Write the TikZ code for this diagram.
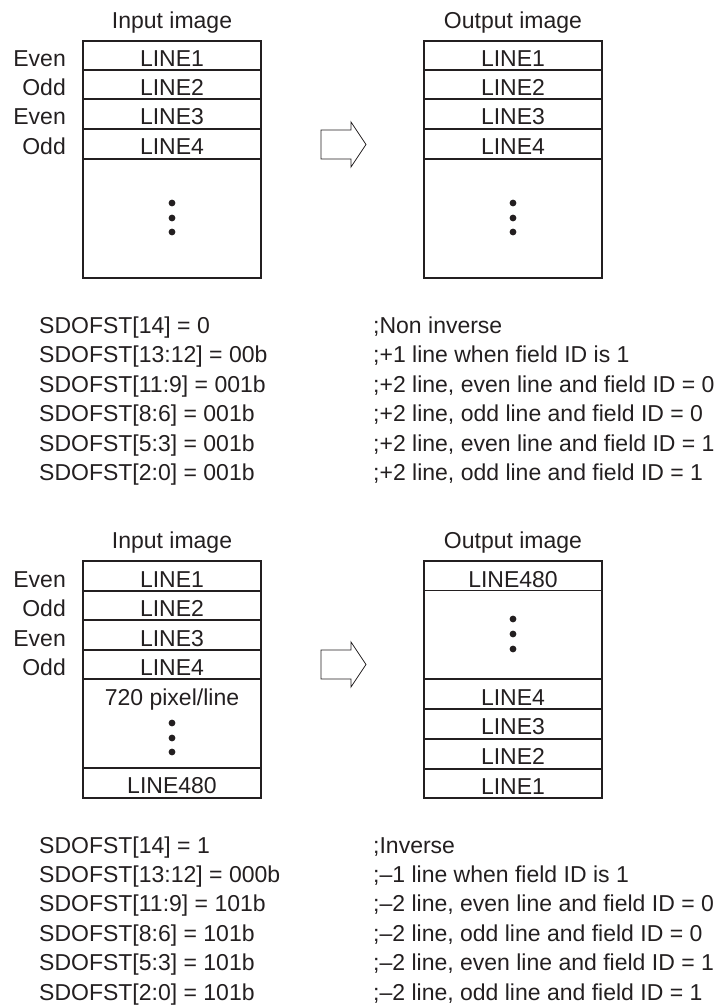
\documentclass[tikz,border=0pt]{standalone}
\usepackage{fontspec}
\setmainfont{Liberation Sans}
\definecolor{ink}{HTML}{231F20}
\begin{document}
\begin{tikzpicture}[x=1bp,y=-1bp,
  txt/.style={font=\fontsize{23bp}{27bp}\selectfont, inner sep=0pt, text=ink},
  frame/.style={draw=ink, line width=1.6bp},
  sep/.style={draw=ink, line width=1.2bp},
  thinsep/.style={draw=ink, line width=0.6bp},
  dot/.style={fill=ink, draw=none},
  blockarrow/.style={draw=ink, line width=0.8bp, fill=white, line join=miter}]
\useasboundingbox (0,0) rectangle (728,1007);

% ---------- top: input image ----------
\node[txt, anchor=base] (tin) at (172,28) {Input image};
\foreach \y in {70,99,129,159} \draw[sep] (83,\y) -- (261,\y);
\draw[frame] (83,41) rectangle (261,278);
\node[txt, anchor=base] (ta1) at (172,66) {LINE1};
\node[txt, anchor=base] (ta2) at (172,95) {LINE2};
\node[txt, anchor=base] (ta3) at (172,124.5) {LINE3};
\node[txt, anchor=base] (ta4) at (172,154) {LINE4};
\node[txt, anchor=base east] (te1) at (66,66) {Even};
\node[txt, anchor=base east] (te2) at (66,95) {Odd};
\node[txt, anchor=base east] (te3) at (66,124.5) {Even};
\node[txt, anchor=base east] (te4) at (66,154) {Odd};
\foreach \y in {203,218,232} \fill[dot] (172,\y) circle (3.4bp);

% arrow top
\draw[blockarrow] (321,130) -- (351,130) -- (351,122) -- (366,144.5) -- (351,167) -- (351,159) -- (321,159) -- cycle;

% ---------- top: output image ----------
\node[txt, anchor=base] (tout) at (513,28) {Output image};
\foreach \y in {70,99,129,159} \draw[sep] (424,\y) -- (602,\y);
\draw[frame] (424,41) rectangle (602,278);
\node[txt, anchor=base] (tb1) at (513,66) {LINE1};
\node[txt, anchor=base] (tb2) at (513,95) {LINE2};
\node[txt, anchor=base] (tb3) at (513,124.5) {LINE3};
\node[txt, anchor=base] (tb4) at (513,154) {LINE4};
\foreach \y in {203,218,232} \fill[dot] (513,\y) circle (3.4bp);

% ---------- top text ----------
\node[txt, anchor=base west] (l1) at (39,333) {SDOFST[14] = 0};
\node[txt, anchor=base west] (l2) at (39,362.5) {SDOFST[13:12] = 00b};
\node[txt, anchor=base west] (l3) at (39,392) {SDOFST[11:9] = 001b};
\node[txt, anchor=base west] (l4) at (39,421.5) {SDOFST[8:6] = 001b};
\node[txt, anchor=base west] (l5) at (39,451) {SDOFST[5:3] = 001b};
\node[txt, anchor=base west] (l6) at (39,480.5) {SDOFST[2:0] = 001b};
\node[txt, anchor=base west] (r1) at (373,333) {;Non inverse};
\node[txt, anchor=base west] (r2) at (373,362.5) {;+1 line when field ID is 1};
\node[txt, anchor=base west] (r3) at (373,392) {;+2 line, even line and field ID = 0};
\node[txt, anchor=base west] (r4) at (373,421.5) {;+2 line, odd line and field ID = 0};
\node[txt, anchor=base west] (r5) at (373,451) {;+2 line, even line and field ID = 1};
\node[txt, anchor=base west] (r6) at (373,480.5) {;+2 line, odd line and field ID = 1};

% ---------- bottom: input image ----------
\node[txt, anchor=base] (bin) at (172,548) {Input image};
\foreach \y in {591,620,650,679,768} \draw[sep] (83,\y) -- (261,\y);
\draw[frame] (83,561) rectangle (261,798);
\node[txt, anchor=base] (ba1) at (172,587) {LINE1};
\node[txt, anchor=base] (ba2) at (172,616) {LINE2};
\node[txt, anchor=base] (ba3) at (172,646) {LINE3};
\node[txt, anchor=base] (ba4) at (172,675) {LINE4};
\node[txt, anchor=base] (bpx) at (172,705) {720 pixel/line};
\node[txt, anchor=base] (ba480) at (172,793) {LINE480};
\node[txt, anchor=base east] (be1) at (66,587) {Even};
\node[txt, anchor=base east] (be2) at (66,616) {Odd};
\node[txt, anchor=base east] (be3) at (66,646) {Even};
\node[txt, anchor=base east] (be4) at (66,675) {Odd};
\foreach \y in {723,738,752} \fill[dot] (172,\y) circle (3.4bp);

% arrow bottom
\draw[blockarrow] (321,650) -- (351,650) -- (351,642) -- (366,664.5) -- (351,687) -- (351,679) -- (321,679) -- cycle;

% ---------- bottom: output image ----------
\node[txt, anchor=base] (bout) at (513,548) {Output image};
\draw[thinsep] (424,590) -- (602,590);
\foreach \y in {679,709,739,769} \draw[sep] (424,\y) -- (602,\y);
\draw[frame] (424,561) rectangle (602,798);
\node[txt, anchor=base] (bb480) at (513,587) {LINE480};
\node[txt, anchor=base] (bb4) at (513,705) {LINE4};
\node[txt, anchor=base] (bb3) at (513,734.5) {LINE3};
\node[txt, anchor=base] (bb2) at (513,764.5) {LINE2};
\node[txt, anchor=base] (bb1) at (513,794) {LINE1};
\foreach \y in {619,634,649} \fill[dot] (513,\y) circle (3.4bp);

% ---------- bottom text ----------
\node[txt, anchor=base west] (m1) at (39,853) {SDOFST[14] = 1};
\node[txt, anchor=base west] (m2) at (39,882.4) {SDOFST[13:12] = 000b};
\node[txt, anchor=base west] (m3) at (39,911.8) {SDOFST[11:9] = 101b};
\node[txt, anchor=base west] (m4) at (39,941.2) {SDOFST[8:6] = 101b};
\node[txt, anchor=base west] (m5) at (39,970.6) {SDOFST[5:3] = 101b};
\node[txt, anchor=base west] (m6) at (39,1000) {SDOFST[2:0] = 101b};
\node[txt, anchor=base west] (s1) at (373,853) {;Inverse};
\node[txt, anchor=base west] (s2) at (373,882.4) {;–1 line when field ID is 1};
\node[txt, anchor=base west] (s3) at (373,911.8) {;–2 line, even line and field ID = 0};
\node[txt, anchor=base west] (s4) at (373,941.2) {;–2 line, odd line and field ID = 0};
\node[txt, anchor=base west] (s5) at (373,970.6) {;–2 line, even line and field ID = 1};
\node[txt, anchor=base west] (s6) at (373,1000) {;–2 line, odd line and field ID = 1};
\end{tikzpicture}
\end{document}
